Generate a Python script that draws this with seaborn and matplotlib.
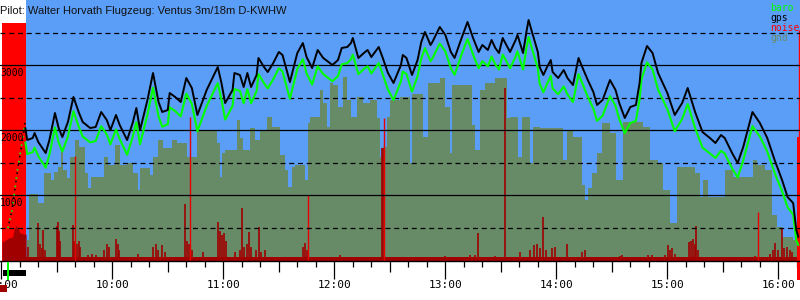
import matplotlib
matplotlib.use("Agg")
import matplotlib.pyplot as plt
import matplotlib.transforms as mtransforms
from matplotlib.patches import Rectangle
from matplotlib.ticker import FixedLocator, NullFormatter
import pandas as pd
import seaborn as sns

# ---------------- data (time = minutes after 09:00, altitude in m) ----------------
gps_t = [13, 14, 17, 18, 20, 24, 26, 29, 31, 33,
         36, 39, 42, 44, 48, 51, 54, 57, 59, 62,
         64, 68, 71, 73, 75, 79, 82, 85, 87, 90,
         91, 94, 97, 100, 103, 106, 111, 117, 119, 121,
         125, 126, 129, 131, 133, 135, 138, 139, 142, 144,
         147, 150, 152, 156, 160, 163, 165, 168, 171, 174,
         179, 182, 184, 187, 189, 190, 193, 196, 198, 200,
         204, 206, 209, 212, 216, 217, 219, 222, 225, 227,
         229, 232, 233, 237, 240, 243, 245, 249, 252, 255,
         258, 260, 263, 265, 267, 269, 271, 273, 275, 278,
         279, 282, 284, 285, 287, 290, 291, 293, 295, 297,
         298, 301, 304, 306, 309, 312, 314, 317, 320, 322,
         325, 329, 332, 334, 337, 340, 343, 345, 346, 349,
         352, 355, 360, 364, 368, 371, 375, 379, 383, 386,
         389, 391, 395, 398, 401, 406, 410, 414, 418, 422,
         425, 428, 429.7, 430.8]
gps_alt = [2031, 1846, 1877, 1954, 1815, 1646, 1846, 2262, 2031, 1892,
           2123, 2508, 2262, 2123, 2031, 2046, 2277, 2154, 2000, 2231,
           2077, 1846, 2108, 2338, 2000, 2462, 2877, 2430, 2277, 2308,
           2569, 2508, 2431, 2800, 2646, 2231, 2615, 2969, 2723, 2415,
           2615, 2877, 2846, 2662, 2877, 2662, 2846, 3108, 2969, 2892,
           3031, 3200, 3154, 2738, 3185, 3338, 3123, 2954, 3231, 3108,
           3000, 3077, 3262, 3277, 3338, 3415, 3108, 3185, 3231, 3123,
           3277, 3123, 2877, 2723, 3000, 3154, 3108, 2846, 3077, 3354,
           3508, 3308, 3354, 3585, 3462, 3200, 3108, 3431, 3662, 3415,
           3200, 3308, 3231, 3385, 3262, 3185, 3415, 3308, 3200, 3385,
           3462, 3185, 3538, 3692, 3492, 3200, 2969, 2846, 2969, 3077,
           2892, 2800, 2923, 2800, 2692, 3108, 2969, 2769, 2585, 2385,
           2462, 2769, 2615, 2415, 2185, 2354, 2385, 2723, 3031, 3292,
           3185, 2877, 2569, 2231, 2415, 2646, 2277, 1969, 1877, 1800,
           1923, 1877, 1646, 1492, 1738, 2277, 2108, 1877, 1538, 1231,
           969, 877, 462, 354]
baro_alt = [1810, 1630, 1660, 1730, 1600, 1420, 1620, 2040, 1810, 1670,
            1900, 2290, 2040, 1900, 1810, 1830, 2060, 1930, 1780, 2010,
            1860, 1620, 1890, 2120, 1780, 2240, 2650, 2210, 2050, 2090,
            2350, 2290, 2210, 2560, 2400, 1980, 2370, 2720, 2470, 2160,
            2370, 2630, 2600, 2410, 2630, 2410, 2600, 2860, 2720, 2640,
            2780, 2950, 2900, 2480, 2940, 3090, 2870, 2700, 2980, 2860,
            2750, 2830, 3010, 3030, 3090, 3160, 2860, 2940, 2980, 2870,
            3030, 2870, 2620, 2460, 2750, 2900, 2860, 2590, 2830, 3100,
            3260, 3060, 3100, 3330, 3210, 2950, 2850, 3180, 3400, 3160,
            2950, 3060, 2980, 3130, 3010, 2930, 3160, 3060, 2950, 3130,
            3210, 2930, 3290, 3430, 3240, 2950, 2710, 2580, 2710, 2830,
            2640, 2550, 2670, 2550, 2430, 2860, 2720, 2510, 2330, 2140,
            2220, 2520, 2370, 2170, 1950, 2110, 2140, 2470, 2780, 3040,
            2930, 2620, 2320, 1980, 2170, 2400, 2030, 1730, 1640, 1570,
            1680, 1640, 1410, 1270, 1530, 2060, 1900, 1670, 1340, 1060,
            810, 700, 300, 230]

# aerotow climb (sparse fixes inside the engine/noise band)
tow_t = [3.6, 5.8, 9.0, 11.2, 12.8]
tow_alt = [490, 770, 1430, 1800, 2108]

gnd_t = [13.9, 15.0, 19.8, 23.1, 26.9, 28.5, 30.6, 32.3, 33.4, 35.5,
         37.1, 39.8, 42.0, 45.2, 46.9, 48.5, 55.5, 57.7, 61.5, 64.2,
         67.9, 71.2, 73.9, 75.0, 80.4, 82.0, 84.7, 87.4, 92.3, 95.0,
         100.4, 105.8, 116.6, 118.2, 119.3, 120.9, 127.4, 129.0, 130.6, 134.4,
         137.1, 139.8, 143.6, 146.3, 150.6, 153.4, 155.0, 157.1, 158.8, 164.2,
         165.8, 166.9, 172.3, 173.9, 176.1, 177.7, 179.3, 182.0, 184.7, 186.9,
         189.0, 192.3, 195.5, 199.3, 203.1, 204.7, 206.3, 208.5, 210.1, 215.5,
         220.9, 222.0, 227.9, 230.6, 237.2, 239.8, 242.5, 243.6, 254.4, 256.0,
         258.8, 261.5, 266.9, 273.4, 275.0, 279.3, 281.5, 285.8, 287.4, 291.2,
         303.6, 305.8, 309.0, 313.9, 315.5, 317.1, 319.3, 322.0, 324.7, 329.0,
         332.3, 336.1, 346.9, 350.6, 355.0, 357.7, 361.5, 365.2, 375.0, 377.7,
         379.3, 382.0, 391.2, 395.5, 406.3, 408.5, 412.8, 416.6, 419.3, 422.0,
         428.0, 431.7]
gnd_alt = [308, 1015, 877, 1338, 1231, 1354, 1431, 1692, 1385, 1262,
           1585, 1846, 1738, 1338, 1108, 1277, 1585, 1462, 1769, 1462,
           1492, 1338, 1077, 1415, 1308, 1585, 1846, 1723, 1846, 1800,
           1585, 2000, 1800, 1277, 1646, 1692, 2154, 1877, 1692, 2031,
           1846, 2000, 2200, 2046, 1615, 1385, 1123, 1431, 1462, 1231,
           2108, 2200, 2615, 2415, 2046, 2723, 2692, 2354, 2815, 2462,
           2200, 2508, 2415, 2462, 2185, 1585, 1738, 2200, 2462, 2508,
           1492, 2554, 1892, 2723, 2800, 2354, 1646, 2692, 2077, 1692,
           2615, 2723, 2800, 2185, 2200, 1585, 2200, 1492, 2046, 2031,
           1538, 2000, 1892, 1154, 923, 1108, 1338, 1646, 2108, 1954,
           1231, 2123, 2046, 1538, 1492, 1077, 569, 1431, 1338, 969,
           1231, 969, 1385, 1277, 1538, 1462, 1385, 692, 508, 354,
           308, 308]

noise_t = [14.4, 19.8, 20.9, 22.0, 22.5, 23.6, 30.1, 30.6, 31.2, 31.7,
           38.8, 39.3, 40.9, 42.0, 42.5, 46.9, 49.0, 51.2, 55.5, 57.1,
           58.2, 62.0, 63.1, 63.7, 73.9, 82.0, 83.6, 84.7, 86.9, 88.5,
           94.4, 99.3, 100.4, 101.5, 103.1, 109.0, 117.1, 118.2, 119.3, 120.4,
           121.5, 126.3, 129.0, 130.1, 131.2, 132.8, 133.9, 135.0, 137.7, 139.3,
           140.4, 142.5, 153.4, 158.8, 163.1, 164.2, 165.3, 183.1, 193.9, 205.8,
           206.3, 230.1, 239.8, 253.3, 256.0, 257.7, 266.9, 272.3, 280.4, 285.8,
           288.0, 289.6, 291.2, 292.8, 294.4, 297.7, 299.3, 305.8, 313.9, 315.5,
           334.4, 335.5, 349.6, 351.7, 358.8, 360.4, 361.5, 362.7, 364.2, 371.7,
           372.8, 374.0, 375.0, 375.6, 376.6, 392.3, 407.4, 415.5, 417.1, 418.2,
           419.8, 422.0, 423.1, 424.7, 426.3, 427.4]
noise_val = [200, 570, 250, 180, 460, 150, 520, 580, 450, 300,
             540, 300, 250, 300, 200, 80, 100, 70, 150, 250,
             200, 320, 250, 150, 100, 200, 250, 150, 230, 120,
             50, 860, 300, 250, 150, 120, 585, 450, 380, 420,
             300, 120, 150, 800, 200, 250, 430, 200, 150, 510,
             120, 150, 50, 50, 200, 260, 150, 70, 50, 1720,
             1720, 50, 60, 70, 80, 410, 60, 2650, 120, 150,
             230, 250, 180, 660, 150, 180, 200, 250, 120, 150,
             60, 70, 70, 80, 80, 230, 150, 180, 100, 280,
             300, 320, 250, 520, 150, 50, 60, 100, 150, 260,
             150, 490, 180, 200, 150, 120]
noise_floor_t = [13.4, 430.1]
noise_floor_val = [45, 45]

spike_t = [39.8, 102.0, 165.8, 206.9, 409.0]
spike_val = [1600, 2200, 1000, 2185, 740]

engine_t = [0.4, 2.0, 4.0, 6.0, 7.0, 8.0, 9.0, 10.0, 12.0, 13.4]
engine_val = [280, 300, 340, 350, 480, 530, 500, 420, 400, 400]
engine_band = (0.2, 13.4)        # pre-release engine/noise band (minutes)
engine_band_top = 3646
landing_band = (430.1, 431.7)
landing_band_top = 1892
landing_line_top = 3540
release_t = 3.2

hour_ticks = [0, 60, 120, 180, 240, 300, 360, 420]
hour_labels = ["09:00", "10:00", "11:00", "12:00", "13:00", "14:00", "15:00", "16:00"]
alt_solid = [1000, 2000, 3000]
alt_dashed = [500, 1500, 2500, 3500]
legend_names = ["baro", "gps", "noise", "gnd"]
title = "Pilot: Walter Horvath Flugzeug: Ventus 3m/18m D-KWHW"

BLUE = "#5b9ef7"
GND = "#678b67"
BARO = "#00ff00"
GPS = "#000000"
NOISE = "#ff0000"
NOISE_DARK = "#a00000"

# ---------------- drawing ----------------
sns.set_theme(style="white")
plt.rcParams["font.family"] = ["DejaVu Sans Mono"]

fig = plt.figure(figsize=(8, 3), dpi=100)
fig.patch.set_facecolor("white")
ax = fig.add_axes([0, 39 / 300, 1, 261 / 300])
ax.set_facecolor("white")
XMIN, XMAX = -0.7, 431.7
YMIN, YMAX = -15, 4000
ax.set_xlim(XMIN, XMAX)
ax.set_ylim(YMIN, YMAX)

ax.axvspan(engine_band[1], XMAX, color=BLUE, lw=0, zorder=0)
ax.add_patch(Rectangle((engine_band[0], YMIN), engine_band[1] - engine_band[0],
                       engine_band_top - YMIN, color=NOISE, lw=0, zorder=1))

ax.fill_between(gnd_t, YMIN, gnd_alt, step="post", color=GND, lw=0, zorder=2)

ax.fill_between(noise_floor_t, YMIN, noise_floor_val, color=NOISE_DARK, lw=0, zorder=3)
ax.fill_between(engine_t, YMIN, engine_val, color=NOISE_DARK, lw=0, zorder=3)
ax.vlines(noise_t, YMIN, noise_val, color=NOISE_DARK, lw=1.2, zorder=3)
ax.vlines(spike_t, YMIN, spike_val, color="#e80000", lw=1.0, zorder=3)

ax.add_patch(Rectangle((landing_band[0], -300), landing_band[1] - landing_band[0],
                       landing_band_top + 300, color=NOISE, lw=0, zorder=3, clip_on=False))
ax.vlines([sum(landing_band) / 2], 0, landing_line_top, color=NOISE, lw=1.0, zorder=3)

for v in alt_solid:
    ax.axhline(v, color="black", lw=0.9, zorder=4)
for v in alt_dashed:
    ax.axhline(v, color="black", lw=0.9, ls=(0, (4, 3)), zorder=4)

df = pd.DataFrame({"t": gps_t, "gps": gps_alt, "baro": baro_alt})
sns.lineplot(data=df, x="t", y="baro", color=BARO, lw=1.5, ax=ax, zorder=5, estimator=None)
sns.lineplot(data=df, x="t", y="gps", color=GPS, lw=1.4, ax=ax, zorder=6, estimator=None)
ax.plot(tow_t, tow_alt, color=BARO, ls=(0, (1, 4)), lw=1.2, zorder=5)
ax.plot(tow_t, tow_alt, color=GPS, ls=(2, (1, 4)), lw=1.2, zorder=6)

ax.set_xlabel("")
ax.set_ylabel("")
ax.set_yticks([])
for s in ["left", "right", "top"]:
    ax.spines[s].set_visible(False)
ax.spines["bottom"].set_color("black")
ax.spines["bottom"].set_linewidth(1.0)
ax.spines["bottom"].set_zorder(7)

ax.xaxis.set_major_locator(FixedLocator(hour_ticks))
ax.set_xticklabels(hour_labels)
minor_ticks = [m for m in range(0, 440, 10) if m % 30 != 0]
ax.xaxis.set_minor_locator(FixedLocator(minor_ticks))
ax.xaxis.set_minor_formatter(NullFormatter())
ax.tick_params(axis="x", which="major", bottom=True, length=13, width=0.9, color="black",
               direction="out", pad=0.5, labelsize=8, labelcolor="black")
ax.tick_params(axis="x", which="minor", bottom=True, length=4.5, width=0.9, color="black",
               direction="out")

sec = ax.secondary_xaxis("bottom")
sec.set_xticks([m for m in range(30, 440, 60)])
sec.tick_params(axis="x", length=8, width=0.9, color="black", direction="out", labelbottom=False)
sec.spines["bottom"].set_visible(False)

for v in alt_solid:
    ax.annotate(str(v), xy=(0, v), xycoords=("axes fraction", "data"),
                xytext=(0, -2.2), textcoords="offset points", ha="left", va="top",
                fontsize=7, color="black", zorder=8)

# bottom-left markers under the axis
trans = mtransforms.blended_transform_factory(ax.transData, fig.transFigure)
fig.add_artist(Rectangle((engine_band[0] + 0.5, 1 - 276 / 300), engine_band[1] - engine_band[0] - 0.5,
                         6 / 300, transform=trans, color="black", lw=0))
fig.add_artist(Rectangle((release_t, 1 - 280 / 300), 1.1, 18 / 300, transform=trans,
                         color=BARO, lw=0))
fig.add_artist(Rectangle((XMIN, 1 - 292 / 300), 4.0, 7 / 300, transform=trans,
                         color=NOISE_DARK, lw=0))

fig.text(0.0, 1 - 14 / 300, title, ha="left", va="baseline", fontsize=8,
         family=["Liberation Sans", "DejaVu Sans"], color="#111111")

leg_colors = [BARO, GPS, NOISE, GND]
for i, (name, c) in enumerate(zip(legend_names, leg_colors)):
    fig.text(770 / 800, 1 - (8 + 10 * i) / 300, name, ha="left", va="center",
             fontsize=7, color=c)

fig.savefig("out.png", dpi=100)
